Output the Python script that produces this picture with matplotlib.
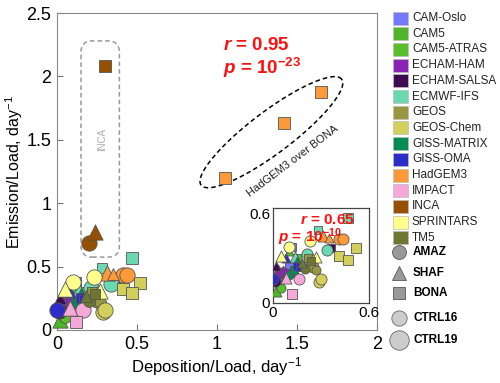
import numpy as np
import matplotlib
matplotlib.use('Agg')
import matplotlib.pyplot as plt
from matplotlib.patches import FancyBboxPatch, Rectangle
from matplotlib.lines import Line2D

plt.rcParams['font.family'] = ['Liberation Sans', 'DejaVu Sans']
plt.rcParams['mathtext.fontset'] = 'custom'
plt.rcParams['mathtext.rm'] = 'Liberation Sans'
plt.rcParams['mathtext.it'] = 'Liberation Sans:italic'
plt.rcParams['mathtext.bf'] = 'Liberation Sans:bold'
plt.rcParams['mathtext.bfit'] = 'Liberation Sans:bold:italic'

models = ['CAM-Oslo', 'CAM5', 'CAM5-ATRAS', 'ECHAM-HAM', 'ECHAM-SALSA', 'ECMWF-IFS', 'GEOS',
          'GEOS-Chem', 'GISS-MATRIX', 'GISS-OMA', 'HadGEM3', 'IMPACT', 'INCA', 'SPRINTARS', 'TM5']
model_colors = ['#7478fa', '#4fb42a', '#5abe2c', '#8a22b4', '#3e0a50', '#6ad8b0', '#989640',
                '#d2d05a', '#008c55', '#2c2cc8', '#fc9a3a', '#f6a8d8', '#965000', '#ffff8c', '#6e7632']
regions = ['AMAZ', 'SHAF', 'BONA']
region_markers = {'AMAZ': 'o', 'SHAF': '^', 'BONA': 's'}
runs = ['CTRL16', 'CTRL19']

# one entry per point: model, region, run, deposition/load, emission/load
pt_model = ['CAM-Oslo', 'CAM-Oslo', 'CAM-Oslo', 'CAM-Oslo', 'CAM-Oslo',
            'CAM5', 'CAM5', 'CAM5',
            'CAM5-ATRAS', 'CAM5-ATRAS', 'CAM5-ATRAS',
            'ECHAM-HAM', 'ECHAM-HAM', 'ECHAM-HAM', 'ECHAM-HAM', 'ECHAM-HAM',
            'ECHAM-SALSA', 'ECHAM-SALSA', 'ECHAM-SALSA',
            'ECMWF-IFS', 'ECMWF-IFS', 'ECMWF-IFS', 'ECMWF-IFS', 'ECMWF-IFS',
            'GEOS', 'GEOS', 'GEOS', 'GEOS',
            'GEOS-Chem', 'GEOS-Chem', 'GEOS-Chem', 'GEOS-Chem', 'GEOS-Chem', 'GEOS-Chem',
            'GISS-MATRIX', 'GISS-MATRIX', 'GISS-MATRIX',
            'GISS-OMA', 'GISS-OMA', 'GISS-OMA', 'GISS-OMA',
            'HadGEM3', 'HadGEM3', 'HadGEM3', 'HadGEM3', 'HadGEM3', 'HadGEM3', 'HadGEM3',
            'IMPACT', 'IMPACT', 'IMPACT',
            'INCA', 'INCA', 'INCA',
            'SPRINTARS', 'SPRINTARS', 'SPRINTARS', 'SPRINTARS',
            'TM5', 'TM5', 'TM5']
pt_region = ['AMAZ', 'AMAZ', 'SHAF', 'BONA', 'BONA',
             'SHAF', 'AMAZ', 'BONA',
             'SHAF', 'AMAZ', 'BONA',
             'AMAZ', 'AMAZ', 'SHAF', 'SHAF', 'BONA',
             'AMAZ', 'SHAF', 'BONA',
             'SHAF', 'AMAZ', 'AMAZ', 'BONA', 'BONA',
             'AMAZ', 'AMAZ', 'SHAF', 'BONA',
             'AMAZ', 'AMAZ', 'BONA', 'BONA', 'BONA', 'SHAF',
             'AMAZ', 'SHAF', 'BONA',
             'AMAZ', 'BONA', 'BONA', 'SHAF',
             'BONA', 'BONA', 'BONA', 'AMAZ', 'AMAZ', 'SHAF', 'SHAF',
             'SHAF', 'AMAZ', 'BONA',
             'AMAZ', 'SHAF', 'BONA',
             'AMAZ', 'AMAZ', 'SHAF', 'SHAF',
             'AMAZ', 'SHAF', 'BONA']
pt_run = ['CTRL19', 'CTRL16', 'CTRL16', 'CTRL16', 'CTRL16',
          'CTRL19', 'CTRL16', 'CTRL16',
          'CTRL16', 'CTRL16', 'CTRL16',
          'CTRL19', 'CTRL16', 'CTRL19', 'CTRL16', 'CTRL16',
          'CTRL19', 'CTRL16', 'CTRL16',
          'CTRL19', 'CTRL19', 'CTRL19', 'CTRL19', 'CTRL16',
          'CTRL19', 'CTRL16', 'CTRL16', 'CTRL16',
          'CTRL19', 'CTRL19', 'CTRL19', 'CTRL19', 'CTRL19', 'CTRL16',
          'CTRL16', 'CTRL16', 'CTRL16',
          'CTRL19', 'CTRL16', 'CTRL16', 'CTRL16',
          'CTRL19', 'CTRL19', 'CTRL19', 'CTRL19', 'CTRL19', 'CTRL19', 'CTRL16',
          'CTRL19', 'CTRL19', 'CTRL19',
          'CTRL19', 'CTRL19', 'CTRL19',
          'CTRL19', 'CTRL19', 'CTRL19', 'CTRL19',
          'CTRL16', 'CTRL16', 'CTRL16']
pt_x = [0.02, 0.04, 0.06, 0.10, 0.12,
        0.02, 0.04, 0.06,
        0.10, 0.05, 0.15,
        0.05, 0.07, 0.03, 0.02, 0.11,
        0.01, 0.02, 0.36,
        0.14, 0.21, 0.34, 0.47, 0.28,
        0.25, 0.27, 0.20, 0.22,
        0.29, 0.30, 0.52, 0.41, 0.47, 0.25,
        0.10, 0.15, 0.13,
        0.00, 0.15, 0.17, 0.08,
        1.05, 1.42, 1.65, 0.41, 0.44, 0.31, 0.35,
        0.08, 0.16, 0.12,
        0.20, 0.24, 0.30,
        0.23, 0.10, 0.05, 0.27,
        0.20, 0.18, 0.24]
pt_y = [0.17, 0.15, 0.22, 0.25, 0.38,
        0.08, 0.12, 0.20,
        0.35, 0.10, 0.30,
        0.20, 0.21, 0.22, 0.18, 0.20,
        0.15, 0.25, 0.37,
        0.31, 0.33, 0.36, 0.57, 0.49,
        0.24, 0.22, 0.25, 0.30,
        0.14, 0.16, 0.37, 0.32, 0.29, 0.30,
        0.19, 0.28, 0.22,
        0.16, 0.25, 0.24, 0.30,
        1.20, 1.63, 1.88, 0.43, 0.43, 0.45, 0.44,
        0.17, 0.16, 0.06,
        0.69, 0.77, 2.08,
        0.42, 0.38, 0.32, 0.31,
        0.23, 0.27, 0.28]

W, H = 500, 383
fig = plt.figure(figsize=(W / 100, H / 100), dpi=100)
ax = fig.add_axes([57 / W, 1 - 330 / H, 320 / W, 317 / H])
inset = fig.add_axes([273 / W, 1 - 303 / H, 96 / W, 95 / H])

color_of = dict(zip(models, model_colors))
shape_scale = {'o': 1.0, '^': 1.0, 's': 0.85}


def draw_points(a, big, small, clip):
    for m, r, run, x, y in zip(pt_model, pt_region, pt_run, pt_x, pt_y):
        mk = region_markers[r]
        size = (big if run == 'CTRL19' else small) * shape_scale[mk]
        a.scatter(x, y, s=size ** 2, marker=mk, color=color_of[m], edgecolors='#555555',
                  linewidths=0.6, clip_on=clip, zorder=3)


draw_points(ax, 11, 8.5, False)
ax.set_xlim(0, 2)
ax.set_ylim(0, 2.5)
ax.set_xticks([0, 0.5, 1, 1.5, 2])
ax.set_xticklabels(['0', '0.5', '1', '1.5', '2'])
ax.set_yticks([0, 0.5, 1, 1.5, 2, 2.5])
ax.set_yticklabels(['0', '0.5', '1', '1.5', '2', '2.5'])
ax.tick_params(direction='in', labelsize=13, length=4, color='#777777', pad=4)
for s in ax.spines.values():
    s.set_color('#888888')
ax.set_xlabel('Deposition/Load, day$^{-1}$', fontsize=12, labelpad=2)
ax.set_ylabel('Emission/Load, day$^{-1}$', fontsize=11.5)
ax.yaxis.set_label_coords(-0.1, 0.5)

# INCA box
inca_box = FancyBboxPatch((0.15, 0.575), 0.24, 1.705,
                          boxstyle='round,pad=0,rounding_size=0.07', mutation_aspect=1.26,
                          fill=False, ls=(0, (3, 2)), lw=1.1, ec='#999999', zorder=2)
ax.add_patch(inca_box)
ax.text(0.28, 1.5, 'INCA', rotation=90, color='#aaaaaa', fontsize=7, ha='center', va='center')

# HadGEM3 ellipse (drawn in pixel geometry, converted to data units)
t = np.linspace(0, 2 * np.pi, 200)
a_px, b_px, ang = 88, 21, np.deg2rad(37)
ex = (a_px * np.cos(t) * np.cos(ang) - b_px * np.sin(t) * np.sin(ang)) / 160 + 1.34
ey = (a_px * np.cos(t) * np.sin(ang) + b_px * np.sin(t) * np.cos(ang)) / 126.8 + 1.56
ax.plot(ex, ey, ls=(0, (3, 2)), color='black', lw=1.1, zorder=2)
ax.text(1.47, 1.33, 'HadGEM3 over BONA', rotation=37, fontsize=8, color='#222222',
        ha='center', va='center')

ax.text(1.04, 2.24, r'$\mathbfit{r}$ = 0.95', color='#ff1010', fontsize=13.5,
        fontweight='bold', ha='left', va='center')
ax.text(1.04, 2.07, r'$\mathbfit{p}$ = $\mathbf{10^{-23}}$', color='#ff1010', fontsize=13.5,
        fontweight='bold', ha='left', va='center')

# inset
draw_points(inset, 8, 6.5, True)
inset.set_xlim(0, 0.6)
inset.set_ylim(0, 0.64)
inset.set_xticks([0, 0.6])
inset.set_xticklabels(['0', '0.6'])
inset.set_yticks([0, 0.6])
inset.set_yticklabels(['0', '0.6'])
inset.tick_params(direction='in', labelsize=11, length=0, pad=2)
for s in inset.spines.values():
    s.set_color('#444444')
    s.set_linewidth(0.9)
inset.text(0.28, 0.87, r'$\mathbfit{r}$ = 0.65', color='#ff1010', fontsize=11,
           fontweight='bold', ha='left', va='center', transform=inset.transAxes)
inset.text(0.05, 0.69, r'$\mathbfit{p}$ = $\mathbf{10^{-10}}$', color='#ff1010', fontsize=11,
           fontweight='bold', ha='left', va='center', transform=inset.transAxes, zorder=5)

# legend (drawn by hand to keep the uneven spacing)
for i, (name, c) in enumerate(zip(models, model_colors)):
    yc = 18 + i * 15.7
    fig.patches.append(Rectangle((393 / W, 1 - (yc + 6.5) / H), 15 / W, 13 / H, fc=c,
                                 ec='#bbbbbb', lw=0.5, transform=fig.transFigure, figure=fig))
    fig.text(412 / W, 1 - yc / H, name, fontsize=8.5, va='center', ha='left', color='#222222')

for name, yc in zip(regions, [252, 273, 293]):
    fig.add_artist(Line2D([399 / W], [1 - yc / H], marker=region_markers[name],
                          ms=10 * shape_scale[region_markers[name]],
                          mfc='#999999', mec='#555555', mew=0.6, ls='none',
                          transform=fig.transFigure))
    fig.text(413 / W, 1 - yc / H, name, fontsize=8.5, fontweight='bold', va='center', ha='left')

for name, yc, ms in zip(runs, [318, 340], [11, 14]):
    fig.add_artist(Line2D([399 / W], [1 - yc / H], marker='o', ms=ms,
                          mfc='#cccccc', mec='#666666', mew=0.6, ls='none',
                          transform=fig.transFigure))
    fig.text(413 / W, 1 - yc / H, name, fontsize=8.5, fontweight='bold', va='center', ha='left')

fig.savefig('out.png', dpi=100)
